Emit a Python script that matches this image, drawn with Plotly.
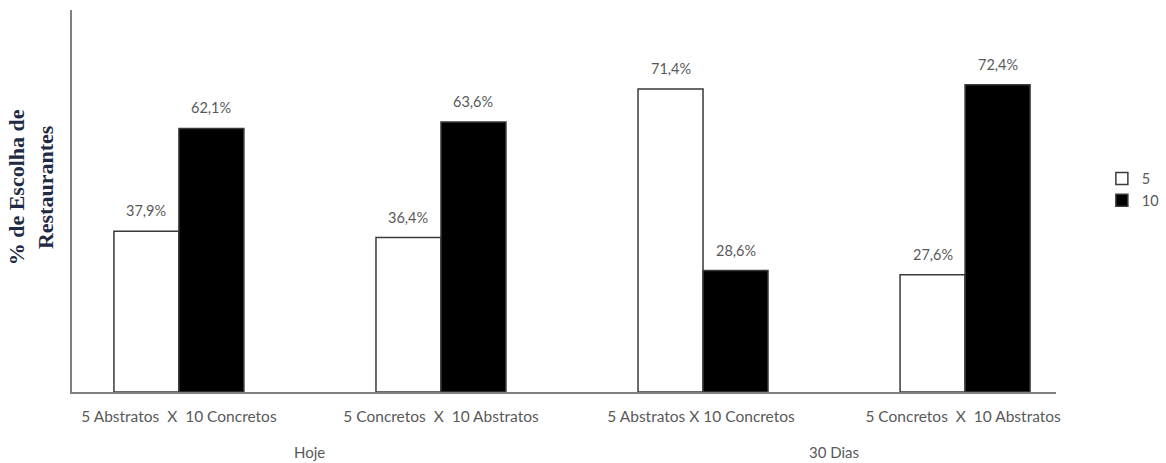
import plotly.graph_objects as go

# Comparisons shown on the x axis and the period each pair belongs to
categories = [
    "5 Abstratos  X  10 Concretos",
    "5 Concretos  X  10 Abstratos",
    "5 Abstratos X 10 Concretos ",
    "5 Concretos  X  10 Abstratos ",
]
periods = ["Hoje", "30 Dias"]

# Percentage of restaurant choices per option
series_names = ["5", "10"]
values_5 = [37.9, 36.4, 71.4, 27.6]
values_10 = [62.1, 63.6, 28.6, 72.4]

label_color = "#595959"
text_family = "Lato, Open Sans, sans-serif"
tick_font = dict(family=text_family, size=15.5, color=label_color)

fig = go.Figure()
fig.add_trace(go.Bar(
    name=series_names[0], x=categories, y=values_5,
    marker=dict(color="white", line=dict(color="#3a3a3a", width=1.5)),
))
fig.add_trace(go.Bar(
    name=series_names[1], x=categories, y=values_10,
    marker=dict(color="black", line=dict(color="#3a3a3a", width=1.5)),
))

# Value labels above each bar
annotations = []
for offset, vals in ((-0.124, values_5), (0.124, values_10)):
    for i, v in enumerate(vals):
        annotations.append(dict(
            x=i + offset, y=v, xref="x", yref="y",
            text=f"{v:.1f}%".replace(".", ","),
            showarrow=False, yanchor="bottom", yshift=10,
            font=dict(family=text_family, size=14.5, color=label_color),
        ))

# Period labels under each pair of comparisons
for j, p in enumerate(periods):
    annotations.append(dict(
        x=2 * j + 0.5, y=-0.157, xref="x", yref="paper",
        text=p, showarrow=False, yanchor="middle",
        font=dict(family=text_family, size=15, color=label_color),
    ))

# Vertical axis title
annotations.append(dict(
    x=-0.042, y=0.535, xref="paper", yref="paper",
    text="% de Escolha de<br>Restaurantes", textangle=-90,
    showarrow=False, xanchor="center", yanchor="middle",
    font=dict(family="Liberation Serif, Times New Roman, serif", size=22,
              color="#1f2a44", weight="bold"),
))

fig.update_layout(
    width=1166, height=463,
    margin=dict(l=72, r=110, t=10, b=71, autoexpand=False),
    paper_bgcolor="white", plot_bgcolor="white",
    barmode="group", bargap=0.504, bargroupgap=0,
    annotations=annotations,
    showlegend=True,
    legend=dict(xref="container", x=0.945, y=0.53, xanchor="left", yanchor="middle",
                font=dict(family=text_family, size=14.5, color=label_color),
                itemwidth=30, tracegroupgap=0,
                bgcolor="rgba(0,0,0,0)"),
    xaxis=dict(
        type="category", range=[-0.408, 3.347],
        showline=True, linecolor="#808080", linewidth=1.5,
        ticks="outside", ticklen=10, tickcolor="rgba(0,0,0,0)",
        tickfont=tick_font, showgrid=False, zeroline=False,
    ),
    yaxis=dict(
        range=[0, 90], showline=True, linecolor="#808080", linewidth=1.5,
        showticklabels=False, ticks="", showgrid=False, zeroline=False,
    ),
)

fig.write_html("out.html")
